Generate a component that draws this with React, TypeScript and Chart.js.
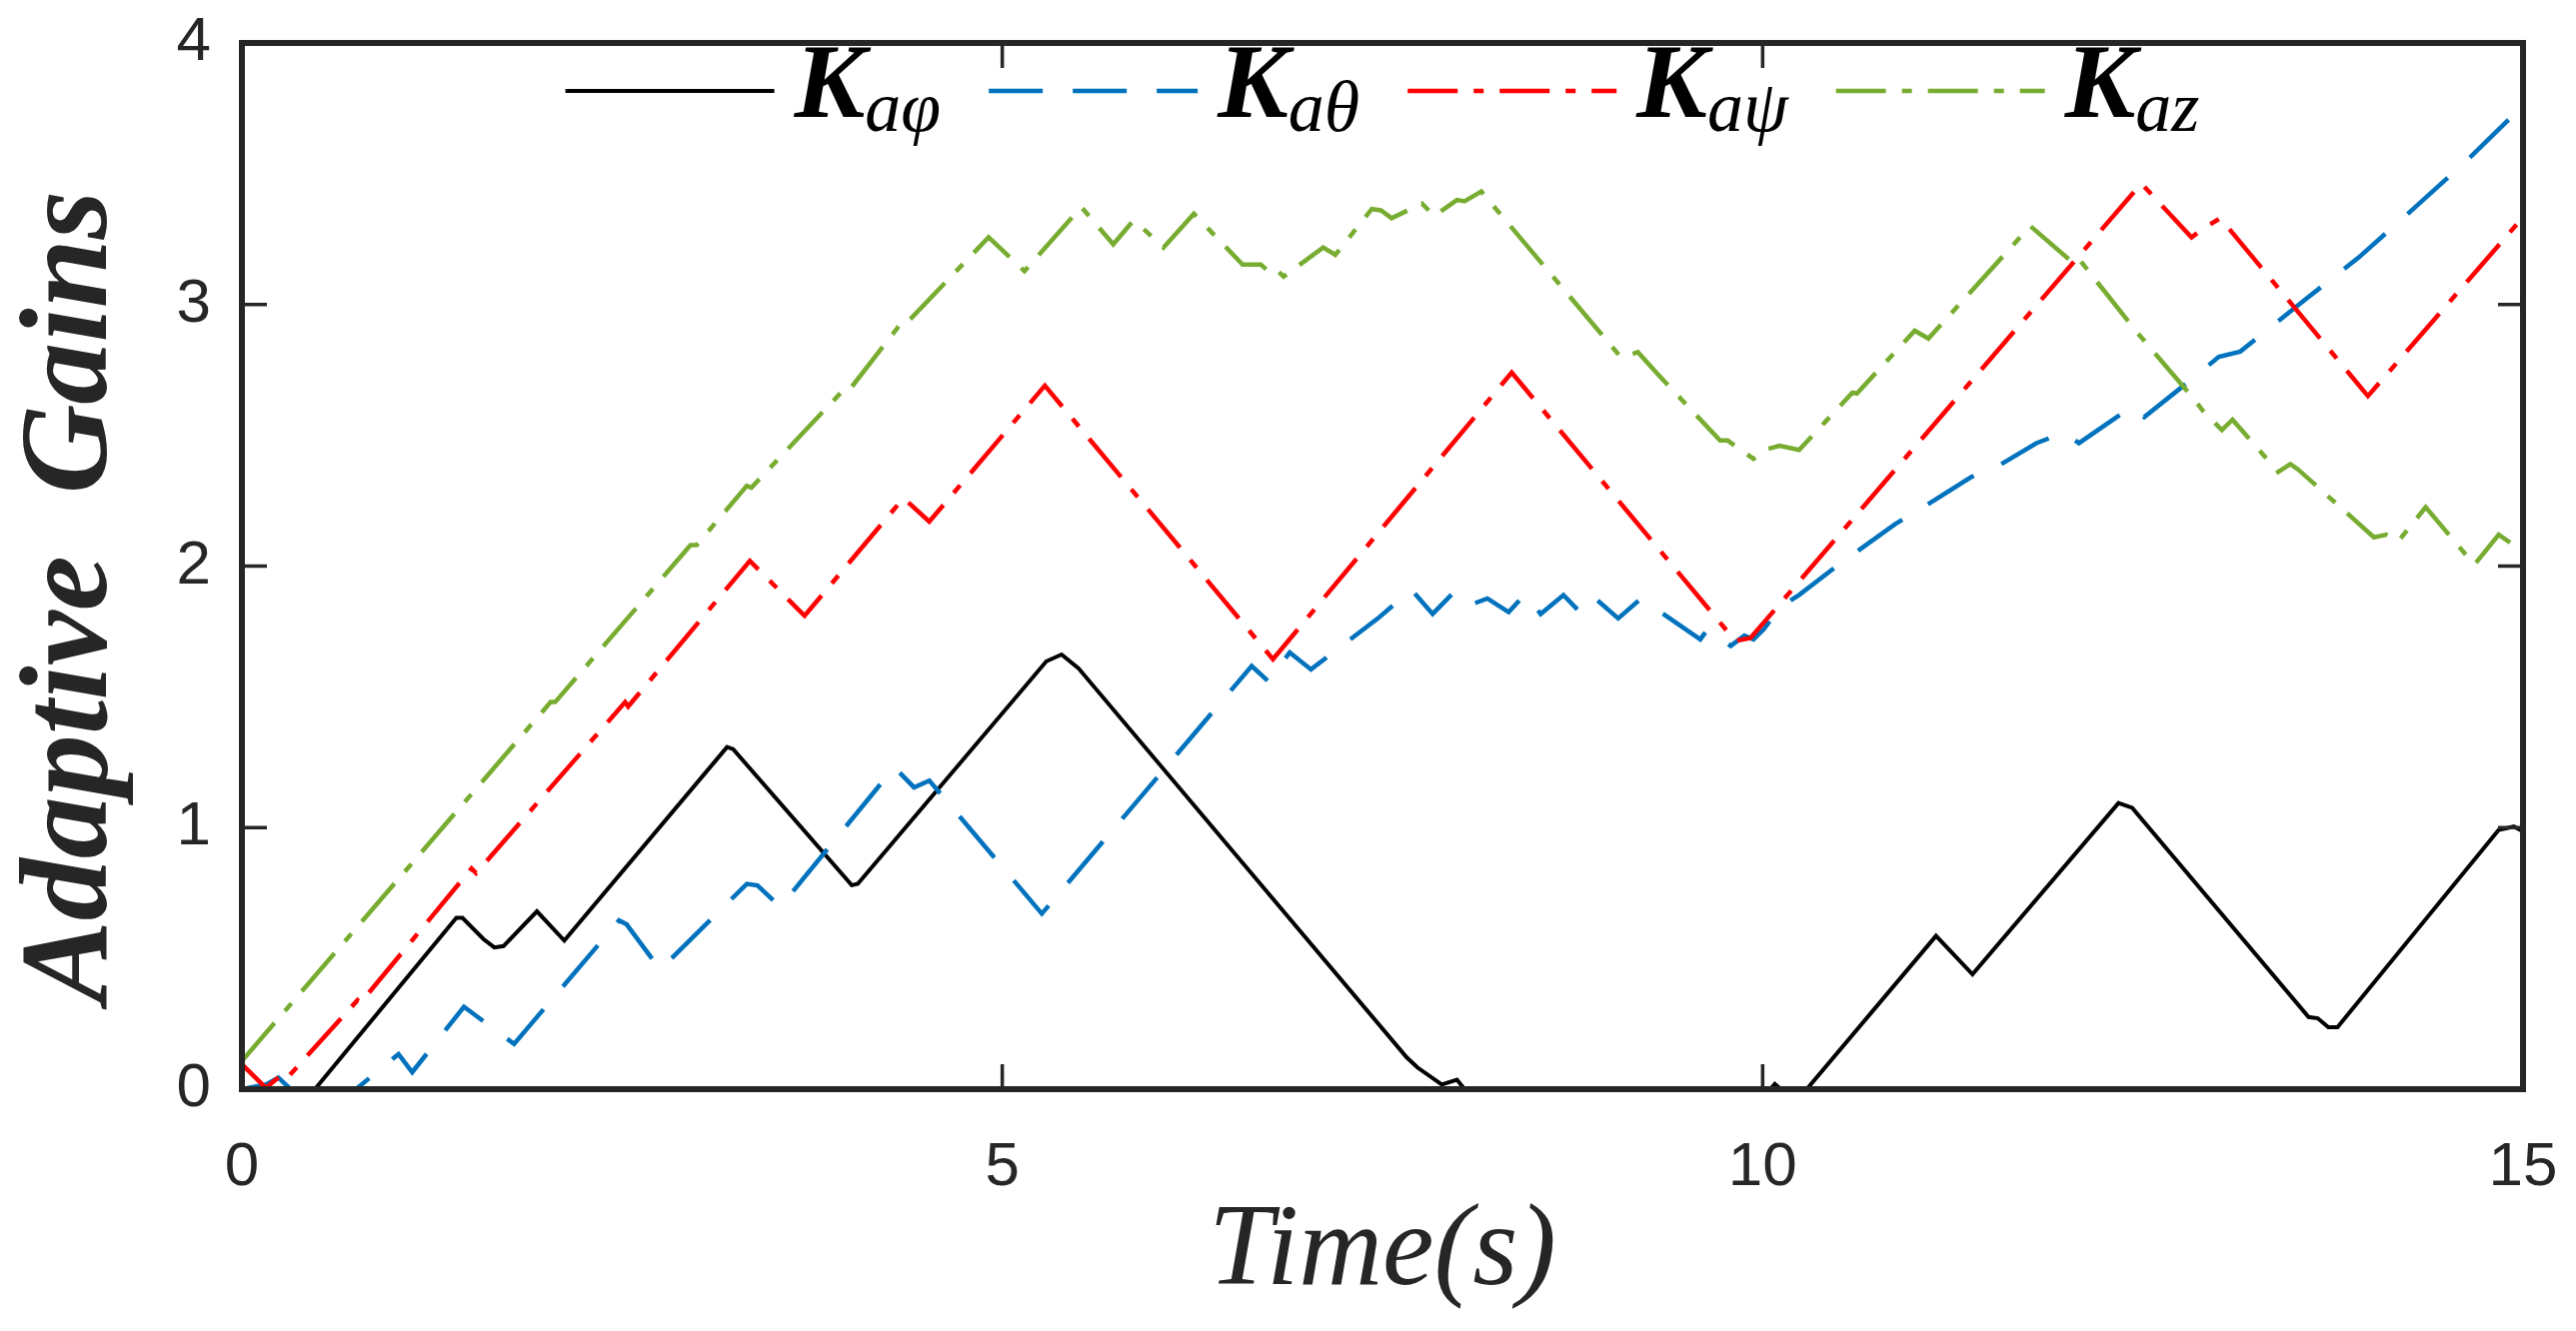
import { useEffect, useRef } from "react";
import { Chart, registerables, type ChartConfiguration, type Plugin } from "chart.js";

Chart.register(...registerables);

// values (time in s, gain)
const phiTime = [0, 0.48, 1.41, 1.45, 1.59, 1.66, 1.72, 1.94, 2.12, 3.19, 3.23, 4.01, 4.05, 5.29, 5.39, 5.5, 7.66, 7.73, 7.89, 7.99, 8.04, 10.05, 10.08, 10.12, 10.29, 11.14, 11.38, 12.34, 12.43, 13.59, 13.65, 13.72, 13.78, 14.84, 14.94, 15];
const phiGain = [0, 0, 0.655, 0.655, 0.573, 0.542, 0.547, 0.68, 0.568, 1.308, 1.3, 0.78, 0.785, 1.636, 1.662, 1.61, 0.121, 0.083, 0.018, 0.036, 0, 0, 0.02, 0, 0, 0.586, 0.439, 1.094, 1.076, 0.276, 0.271, 0.237, 0.237, 0.991, 1.004, 0.986];

const thetaTime = [0, 0.16, 0.24, 0.32, 0.75, 1.03, 1.12, 1.46, 1.79, 2.48, 2.53, 2.75, 3.32, 3.39, 3.54, 4.29, 4.42, 4.52, 5.26, 6.64, 6.75, 6.89, 7.03, 7.47, 7.69, 7.83, 7.97, 8.07, 8.19, 8.33, 8.44, 8.54, 8.69, 8.81, 8.9, 9.05, 9.2, 9.59, 9.64, 9.79, 9.88, 9.94, 10.01, 10.11, 10.24, 10.51, 10.87, 11.07, 11.37, 11.57, 11.8, 11.98, 12.08, 12.43, 12.51, 12.79, 13.0, 13.14, 13.57, 13.92, 14.21, 14.63, 15];
const thetaGain = [0, 0.018, 0.044, 0, 0, 0.134, 0.065, 0.315, 0.173, 0.645, 0.63, 0.457, 0.785, 0.779, 0.697, 1.231, 1.154, 1.18, 0.671, 1.618, 1.559, 1.67, 1.605, 1.8, 1.91, 1.817, 1.9, 1.85, 1.876, 1.824, 1.894, 1.817, 1.889, 1.817, 1.876, 1.8, 1.876, 1.72, 1.76, 1.695, 1.734, 1.72, 1.76, 1.84, 1.89, 2.01, 2.16, 2.23, 2.34, 2.39, 2.47, 2.51, 2.47, 2.61, 2.57, 2.7, 2.8, 2.82, 3.02, 3.18, 3.33, 3.55, 3.76];

const psiTime = [0, 0.157, 0.255, 0.287, 0.76, 0.78, 1.51, 1.54, 2.52, 2.54, 3.34, 3.7, 4.35, 4.52, 5.28, 6.78, 8.35, 9.82, 9.92, 12.49, 12.82, 12.91, 13.01, 13.98, 15];
const psiGain = [0.095, 0.005, 0.052, 0.036, 0.34, 0.33, 0.844, 0.826, 1.48, 1.463, 2.02, 1.81, 2.26, 2.17, 2.69, 1.644, 2.74, 1.714, 1.725, 3.463, 3.257, 3.295, 3.33, 2.65, 3.334];

const zTime = [0, 2.03, 2.06, 2.95, 2.99, 3.32, 3.35, 3.96, 3.99, 4.35, 4.38, 4.91, 5.146, 5.52, 5.73, 5.86, 5.89, 6.06, 6.26, 6.58, 6.7, 6.75, 6.79, 6.85, 7.11, 7.19, 7.43, 7.49, 7.56, 7.76, 7.84, 7.99, 8.04, 8.15, 9.07, 9.18, 9.3, 9.72, 9.77, 9.94, 10.01, 10.11, 10.24, 10.59, 10.62, 11.0, 11.09, 11.76, 12.04, 12.08, 12.46, 12.82, 12.9, 13.02, 13.09, 13.39, 13.47, 13.52, 14.02, 14.1, 14.18, 14.36, 14.68, 14.84, 14.94, 15];
const zGain = [0.108, 1.48, 1.48, 2.08, 2.08, 2.307, 2.3, 2.676, 2.67, 2.94, 2.935, 3.257, 3.128, 3.373, 3.23, 3.32, 3.31, 3.218, 3.347, 3.153, 3.153, 3.128, 3.14, 3.107, 3.218, 3.19, 3.365, 3.36, 3.33, 3.386, 3.339, 3.4, 3.395, 3.432, 2.797, 2.818, 2.74, 2.48, 2.48, 2.41, 2.444, 2.46, 2.444, 2.663, 2.66, 2.9, 2.87, 3.3, 3.16, 3.174, 2.895, 2.65, 2.59, 2.52, 2.56, 2.36, 2.39, 2.37, 2.11, 2.12, 2.095, 2.225, 2.005, 2.12, 2.08, 2.11];

const legendMain = "K";
const legendSubs = ["aφ", "aθ", "aψ", "az"];
const xTickValues = [0, 5, 10, 15];
const yTickValues = [0, 1, 2, 3, 4];

const AXIS_COLOR = "#262626";

const toPoints = (t: number[], v: number[]) => t.map((x, i) => ({ x, y: v[i] }));

// MATLAB-like box with inward ticks
const framePlugin: Plugin<"line"> = {
  id: "frame",
  afterDatasetsDraw(chart) {
    const { ctx, chartArea } = chart;
    const { left, right, top, bottom } = chartArea;
    const xs = chart.scales.x;
    const ys = chart.scales.y;
    ctx.save();
    ctx.strokeStyle = AXIS_COLOR;
    ctx.lineWidth = 3.5;
    ctx.beginPath();
    xs.ticks.forEach((t) => {
      if (t.value <= xs.min || t.value >= xs.max) return;
      const px = xs.getPixelForValue(t.value);
      ctx.moveTo(px, bottom);
      ctx.lineTo(px, bottom - 25);
      ctx.moveTo(px, top);
      ctx.lineTo(px, top + 25);
    });
    ys.ticks.forEach((t) => {
      if (t.value <= ys.min || t.value >= ys.max) return;
      const py = ys.getPixelForValue(t.value);
      ctx.moveTo(left, py);
      ctx.lineTo(left + 25, py);
      ctx.moveTo(right, py);
      ctx.lineTo(right - 25, py);
    });
    ctx.stroke();
    ctx.lineWidth = 6;
    ctx.strokeRect(left, top, right - left, bottom - top);
    ctx.restore();
  },
};

// legend with subscripted labels, drawn inside the top of the plot
const mathLegend: Plugin<"line"> = {
  id: "mathLegend",
  afterDatasetsDraw(chart) {
    const { ctx, chartArea } = chart;
    const mainFont = "italic bold 106px 'Liberation Serif'";
    const subFont = "italic 72px 'Liberation Serif'";
    const lineLen = 209;
    const gapLine = 20;
    const gapNext = 48;
    ctx.save();
    const sizes = chart.data.datasets.map((_, i) => {
      ctx.font = mainFont;
      const k = ctx.measureText(legendMain).width;
      ctx.font = subFont;
      const s = ctx.measureText(legendSubs[i]).width;
      return { k, s };
    });
    const total =
      sizes.reduce((a, w) => a + lineLen + gapLine + w.k + w.s, 0) + gapNext * (sizes.length - 1);
    let x = (chartArea.left + chartArea.right) / 2 - total / 2;
    const lineY = chartArea.top + 48;
    const mainY = chartArea.top + 74;
    const subY = chartArea.top + 88;
    chart.data.datasets.forEach((ds: any, i) => {
      ctx.strokeStyle = ds.borderColor;
      ctx.lineWidth = ds.borderWidth;
      ctx.setLineDash(ds.borderDash || []);
      ctx.beginPath();
      ctx.moveTo(x, lineY);
      ctx.lineTo(x + lineLen, lineY);
      ctx.stroke();
      ctx.setLineDash([]);
      x += lineLen + gapLine;
      ctx.fillStyle = "#000";
      ctx.textBaseline = "alphabetic";
      ctx.textAlign = "left";
      ctx.font = mainFont;
      ctx.fillText(legendMain, x, mainY);
      x += sizes[i].k;
      ctx.font = subFont;
      ctx.fillText(legendSubs[i], x, subY);
      x += sizes[i].s + gapNext;
    });
    ctx.restore();
  },
};

const AdaptiveGainsChart = () => {
  const chartRef = useRef<HTMLCanvasElement | null>(null);
  const chartInstance = useRef<Chart | null>(null);

  useEffect(() => {
    if (!chartRef.current) return;
    const config: ChartConfiguration<"line"> = {
      type: "line",
      data: {
        datasets: [
          {
            label: legendMain + legendSubs[0],
            data: toPoints(phiTime, phiGain),
            borderColor: "#000000",
            borderWidth: 4,
            order: 3,
          },
          {
            label: legendMain + legendSubs[1],
            data: toPoints(thetaTime, thetaGain),
            borderColor: "#0072BD",
            borderWidth: 4.5,
            borderDash: [54, 30],
            order: 2,
          },
          {
            label: legendMain + legendSubs[2],
            data: toPoints(psiTime, psiGain),
            borderColor: "#FF0000",
            borderWidth: 4.5,
            borderDash: [50, 16, 10, 16],
            order: 1,
          },
          {
            label: legendMain + legendSubs[3],
            data: toPoints(zTime, zGain),
            borderColor: "#77AC30",
            borderWidth: 4.5,
            borderDash: [50, 16, 10, 16],
            order: 0,
          },
        ],
      },
      options: {
        animation: false,
        responsive: true,
        maintainAspectRatio: false,
        layout: { padding: { left: 0, right: 53, top: 43, bottom: 0 } },
        elements: {
          point: { radius: 0 },
          line: { tension: 0, fill: false },
        },
        plugins: {
          legend: { display: false },
          tooltip: { enabled: false },
        },
        scales: {
          x: {
            type: "linear",
            min: 0,
            max: 15,
            afterBuildTicks: (scale) => {
              scale.ticks = xTickValues.map((value) => ({ value }));
            },
            afterFit: (scale: any) => {
              scale.height = 242;
              scale.paddingLeft = 0;
              scale.paddingRight = 0;
            },
            grid: { display: false, drawTicks: false },
            border: { display: false },
            ticks: {
              color: AXIS_COLOR,
              padding: 42,
              font: { family: "'Liberation Sans'", size: 62 },
            },
            title: {
              display: true,
              text: "Time(s)",
              color: AXIS_COLOR,
              padding: { top: 0, bottom: 8 },
              font: { family: "'Liberation Serif'", size: 116, style: "italic" },
            },
          },
          y: {
            type: "linear",
            min: 0,
            max: 4,
            afterBuildTicks: (scale) => {
              scale.ticks = yTickValues.map((value) => ({ value }));
            },
            afterFit: (scale: any) => {
              scale.width = 242;
              scale.paddingTop = 0;
              scale.paddingBottom = 0;
            },
            grid: { display: false, drawTicks: false },
            border: { display: false },
            ticks: {
              color: AXIS_COLOR,
              padding: 31,
              font: { family: "'Liberation Sans'", size: 62 },
            },
            title: {
              display: true,
              text: "Adaptive  Gains  ",
              color: AXIS_COLOR,
              padding: { top: 0, bottom: 0 },
              font: { family: "'Liberation Serif'", size: 124, style: "italic", weight: "bold" },
            },
          },
        },
      },
      plugins: [mathLegend, framePlugin],
    };

    chartInstance.current = new Chart(chartRef.current, config);

    return () => {
      chartInstance.current?.destroy();
    };
  }, []);

  return (
    <div style={{ position: "fixed", left: 0, top: 0, width: 2577, height: 1332, background: "#fff" }}>
      <canvas ref={chartRef}></canvas>
    </div>
  );
};

export default function App() {
  return <AdaptiveGainsChart />;
}
